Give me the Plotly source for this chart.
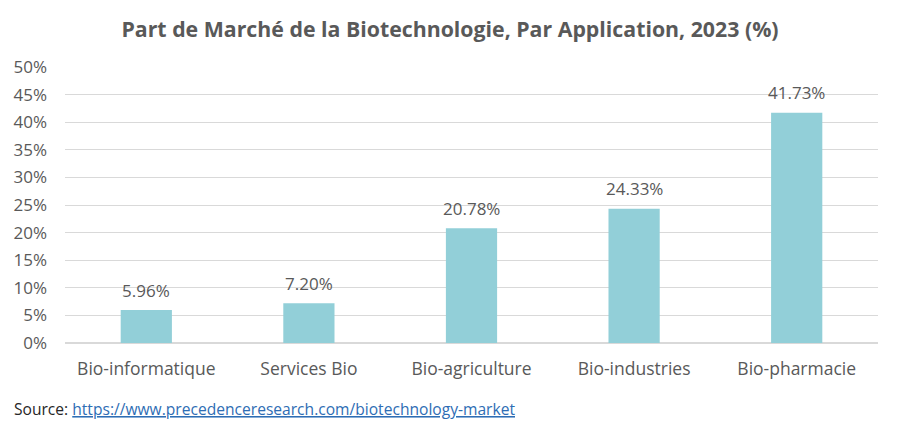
import plotly.graph_objects as go

categories = ["Bio-informatique", "Services Bio", "Bio-agriculture", "Bio-industries", "Bio-pharmacie"]
values = [5.96, 7.20, 20.78, 24.33, 41.73]
labels = ["5.96%", "7.20%", "20.78%", "24.33%", "41.73%"]
y_ticks = [0, 5, 10, 15, 20, 25, 30, 35, 40, 45, 50]
y_ticklabels = [f"{v}%" for v in y_ticks]

FONT = "Open Sans"
GREY = "#595959"

fig = go.Figure(go.Bar(
    x=categories, y=values,
    marker=dict(color="#92CFD8", line=dict(width=0)),
    width=0.315,
))

for c, v, t in zip(categories, values, labels):
    fig.add_annotation(x=c, y=v, text=t, showarrow=False, yanchor="middle", yshift=20,
                       font=dict(family=FONT, size=17, color=GREY))

fig.update_layout(
    width=892, height=420,
    margin=dict(l=57, r=22, t=59, b=85, autoexpand=False),
    paper_bgcolor="white", plot_bgcolor="white",
    showlegend=False,
    title=dict(text="<b>Part de Marché de la Biotechnologie, Par Application, 2023 (%)</b>",
               x=442 / 892, xref="container", xanchor="center", y=1 - 22 / 420, yref="container",
               yanchor="middle",
               font=dict(family=FONT, size=21.3, color=GREY)),
    font=dict(family=FONT, color=GREY),
)
fig.update_yaxes(range=[0, 50], tickvals=y_ticks, ticktext=y_ticklabels,
                 showgrid=True, gridcolor="#D9D9D9", gridwidth=1,
                 zeroline=True, zerolinecolor="#D9D9D9",
                 tickfont=dict(family=FONT, size=17, color=GREY),
                 ticklabelstandoff=17, showline=False, automargin=False)
fig.update_xaxes(tickfont=dict(family=FONT, size=17.5, color=GREY),
                 showline=False, ticklabelstandoff=13, automargin=False)

fig.add_annotation(
    text='Source: <a href="https://www.precedenceresearch.com/biotechnology-market" style="color:#2E6DB4"><span style="text-decoration:underline">https://www.precedenceresearch.com/biotechnology-market</span></a>',
    xref="paper", yref="paper", x=-53 / 813, y=-66 / 276, xanchor="left", yanchor="middle",
    showarrow=False, font=dict(family=FONT, size=15.6, color="#262626"), align="left")

fig.write_html("out.html")
